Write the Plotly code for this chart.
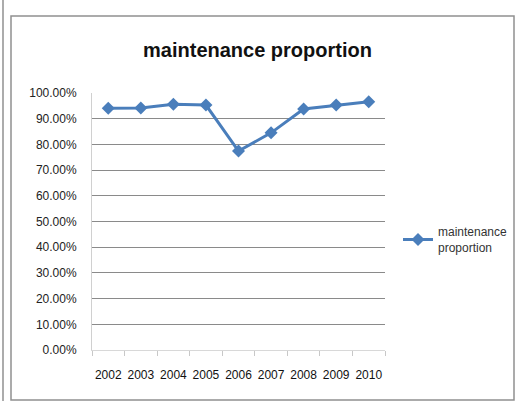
import plotly.graph_objects as go

years = ["2002", "2003", "2004", "2005", "2006", "2007", "2008", "2009", "2010"]
proportion = [0.941, 0.942, 0.956, 0.953, 0.774, 0.845, 0.938, 0.953, 0.966]
y_ticks = [i / 10 for i in range(11)]
y_tick_labels = ["%.2f%%" % (v * 100) for v in y_ticks]

W, H = 515, 401
L, R, T, B = 92, 130, 93, 51
pw, ph = W - L - R, H - T - B

def px(x):
    return (x - L) / pw

def py(y):
    return (H - B - y) / ph

blue = "#4a7ebb"
font = "Liberation Sans, Arial, sans-serif"

fig = go.Figure()
fig.add_trace(go.Scatter(
    x=years, y=proportion, mode="lines+markers",
    name="maintenance<br>proportion",
    line=dict(color=blue, width=3),
    marker=dict(symbol="diamond", size=10, color=blue),
))

fig.update_layout(
    width=W, height=H,
    margin=dict(l=L, r=R, t=T, b=B, autoexpand=False),
    paper_bgcolor="white", plot_bgcolor="white",
    title=dict(text="<b>maintenance proportion</b>", x=0.5, xanchor="center",
               y=1 - 50 / H, yanchor="middle",
               font=dict(family=font, size=20, color="#111")),
    font=dict(family=font, size=12, color="#222"),
    showlegend=True,
    legend=dict(x=px(398), y=py(240), xanchor="left", yanchor="middle",
                font=dict(size=12, color="#333"), bgcolor="rgba(0,0,0,0)",
                itemwidth=30),
    xaxis=dict(type="category", showgrid=False, showline=True, linecolor="#d8d8d8",
               ticks="outside", tickson="boundaries", ticklen=5, tickcolor="#c8c8c8",
               tickangle=0, ticklabelstandoff=14,
               tickfont=dict(size=12, color="#111"), range=[-0.5, 8.5]),
    yaxis=dict(range=[0, 1], tickvals=y_ticks, ticktext=y_tick_labels,
               showgrid=True, gridcolor="#8a8a8a", gridwidth=1,
               showline=True, linecolor="#d0d0d0", zeroline=False,
               ticks="", ticklabelstandoff=12,
               tickfont=dict(size=12, color="#222")),
)

fig.add_shape(type="rect", xref="paper", yref="paper",
              x0=px(11), x1=px(514), y0=py(16), y1=py(400),
              line=dict(color="#909090", width=1.5))
fig.add_shape(type="line", xref="paper", yref="paper",
              x0=px(3), x1=px(3), y0=py(0), y1=py(401),
              line=dict(color="#909090", width=1.5))

fig.write_html("out.html")
